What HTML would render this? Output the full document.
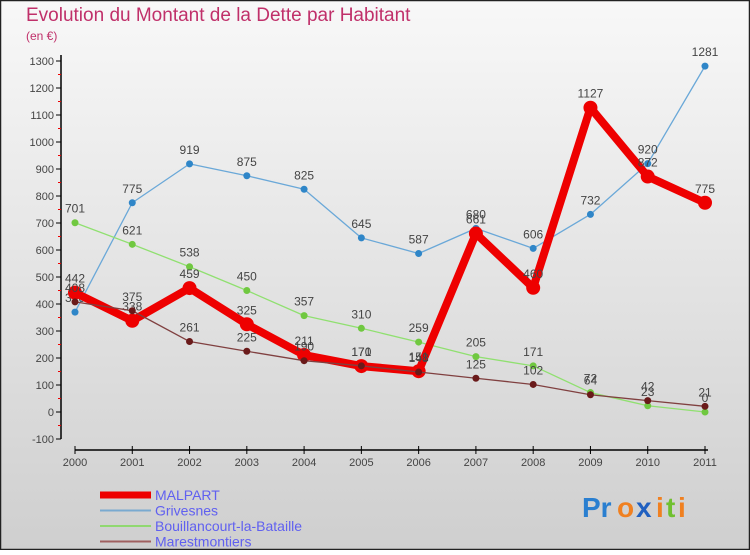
<!DOCTYPE html>
<html><head><meta charset="utf-8">
<style>
html,body{margin:0;padding:0;}
body{width:750px;height:550px;overflow:hidden;font-family:"Liberation Sans",sans-serif;}
</style></head>
<body>
<svg id="chart" width="750" height="550" xmlns="http://www.w3.org/2000/svg">
<defs>
<linearGradient id="bg" x1="0" y1="0" x2="0" y2="1">
<stop offset="0" stop-color="#f8f8f8"/><stop offset="1" stop-color="#cfcfcf"/>
</linearGradient>
</defs>
<rect x="0.5" y="0.5" width="749" height="549" fill="url(#bg)" stroke="#222" stroke-width="1.5"/>
<text x="26" y="21" font-size="19" fill="#c0306a">Evolution du Montant de la Dette par Habitant</text>
<text x="26" y="40" font-size="12" fill="#c0306a">(en €)</text>
<g id="axes"></g>
<g id="series"></g>
<g id="legend"></g>
<g font-size="28" font-weight="bold">
<text x="582" y="517" fill="#2a7fd0">Pr</text><text x="617" y="517" fill="#f08020">o</text><text x="636" y="517" fill="#2060c0">x</text><text x="656" y="517" fill="#f08020">i</text><text x="666" y="517" fill="#70c030">t</text><text x="678" y="517" fill="#f08020">i</text>
</g>
</svg>
<script>
const years = ["2000","2001","2002","2003","2004","2005","2006","2007","2008","2009","2010","2011"];
const malpart = [442,338,459,325,211,170,151,661,460,1127,872,775];
const grivesnes = [370,775,919,875,825,645,587,680,606,732,920,1281];
const bouillancourt = [701,621,538,450,357,310,259,205,171,72,23,0];
const marestmontiers = [408,375,261,225,190,171,148,125,102,64,42,21];
const yTicks = [-100,0,100,200,300,400,500,600,700,800,900,1000,1100,1200,1300];

const NS="http://www.w3.org/2000/svg";
function xS(i){return 75+i*(705-75)/11;}
function yS(v){return 412-v*(351/1300);}
function mk(tag,attrs,parent){const e=document.createElementNS(NS,tag);for(const k in attrs)e.setAttribute(k,attrs[k]);parent.appendChild(e);return e;}
const axes=document.getElementById('axes'),ser=document.getElementById('series'),leg=document.getElementById('legend');

let yl=mk('line',{x1:61,y1:55,x2:61,y2:yS(-100),stroke:'#000','stroke-width':1.5},axes);


yTicks.forEach(v=>{
  const y=yS(v);
  mk('line',{x1:56,y1:y,x2:61,y2:y,stroke:'#000'},axes);
  if(v<1300) mk('line',{x1:58,y1:y-13.5,x2:61,y2:y-13.5,stroke:'#e00'},axes);
  const t=mk('text',{x:54,y:y+4,'font-size':11,fill:'#444','text-anchor':'end'},axes);
  t.textContent=v;
  
  
});
let xl=mk('line',{x1:75,y1:450,x2:708,y2:450,stroke:'#000','stroke-width':1.5},axes);


years.forEach((yr,i)=>{
  const x=xS(i);
  mk('line',{x1:x,y1:446,x2:x,y2:454,stroke:'#000'},axes);
  const t=mk('text',{x:x,y:466,'font-size':11,fill:'#444','text-anchor':'middle'},axes);
  t.textContent=yr;
  
  
});

function drawSeries(name,vals,color,width,r,dot){
  const g=mk('g',{},ser);
  
  
  const pts=vals.map((v,i)=>xS(i)+','+yS(v)).join(' ');
  mk('polyline',{points:pts,fill:'none',stroke:color,'stroke-width':width,'stroke-linejoin':'round'},g);
  vals.forEach((v,i)=>{
    const c=mk('circle',{cx:xS(i),cy:yS(v),r:r,fill:dot},g);
    
    
    const t=mk('text',{x:xS(i),y:yS(v)-10,'font-size':12,fill:'#444','text-anchor':'middle'},g);
    t.textContent=v;
    
    
  });
}
drawSeries('grivesnes',grivesnes,'#6aa8d8',1.3,3.5,'#2f86c8');
drawSeries('bouillancourt',bouillancourt,'#90e070',1.3,3.5,'#70c840');
drawSeries('malpart',malpart,'#ee0000',8,7,'#ee0000');
drawSeries('marestmontiers',marestmontiers,'#804040',1.3,3.5,'#6a1a1a');

const legNames=["MALPART","Grivesnes","Bouillancourt-la-Bataille","Marestmontiers"];
const legColors=["#ee0000","#7aaad0","#90d870","#a06060"];
const legW=[7,2,2,2];
legNames.forEach((n,i)=>{
  const y=492+i*15.5;
  const g=mk('g',{},leg);
  
  
  mk('line',{x1:100,y1:y+3,x2:151,y2:y+3,stroke:legColors[i],'stroke-width':legW[i]},g);
  const t=mk('text',{x:155,y:y+8,'font-size':14,fill:'#6060f0'},g);
  t.textContent=n;
});
</script>
</body></html>
